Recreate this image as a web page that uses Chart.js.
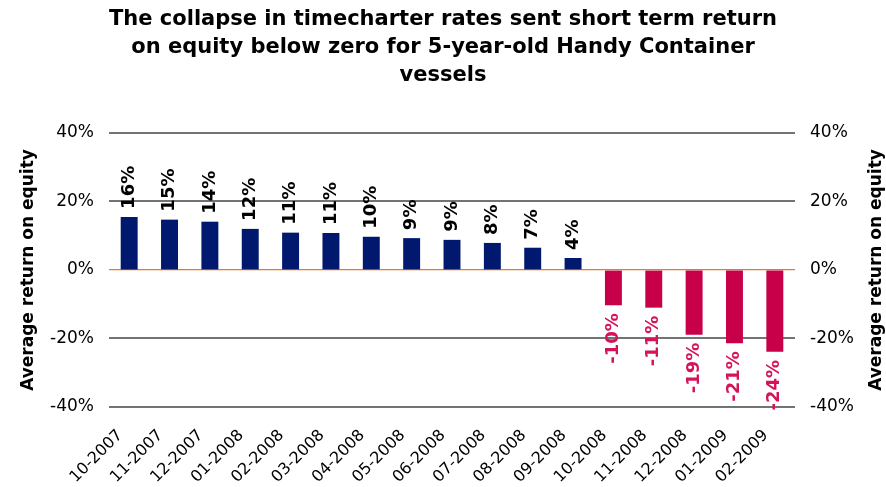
<!DOCTYPE html>
<html>
<head>
<meta charset="utf-8">
<script src="https://cdn.jsdelivr.net/npm/chart.js@4"></script>
<style>
  body { margin: 0; background: #fff; }
</style>
</head>
<body>
<canvas id="grafico" width="886" height="487"></canvas>
<script>
// Datos
var meses = ['10-2007', '11-2007', '12-2007', '01-2008', '02-2008', '03-2008', '04-2008', '05-2008',
    '06-2008', '07-2008', '08-2008', '09-2008', '10-2008', '11-2008', '12-2008', '01-2009', '02-2009'];
var valores = [15.5, 14.7, 14.1, 12.0, 10.9, 10.8, 9.7, 9.3, 8.8, 7.9, 6.5, 3.5,
    -10.3, -11.0, -18.9, -21.4, -23.9];
var titulo = ['The collapse in timecharter rates sent short term return',
    'on equity below zero for 5-year-old Handy Container', 'vessels'];
var tituloEje = 'Average return on equity';

var azul = '#00186E';
var rojo = '#C8004A';

// Plugin: etiquetas giradas en cada barra y titulos de los dos ejes
var etiquetasPlugin = {
    id: 'etiquetas',
    afterDatasetsDraw: function (chart) {
        var ctx = chart.ctx;
        var meta = chart.getDatasetMeta(0);
        ctx.save();
        ctx.font = 'bold 18px "DejaVu Sans"';
        ctx.textBaseline = 'middle';
        meta.data.forEach(function (barra, i) {
            var v = valores[i];
            var txt = Math.round(v) + '%';
            ctx.save();
            if (v >= 0) {
                ctx.translate(barra.x, barra.y - 8);
                ctx.rotate(-Math.PI / 2);
                ctx.textAlign = 'left';
                ctx.fillStyle = '#000';
            } else {
                ctx.translate(barra.x, barra.y + 8);
                ctx.rotate(-Math.PI / 2);
                ctx.textAlign = 'right';
                ctx.fillStyle = '#D4145A';
            }
            ctx.fillText(txt, 0, 0);
            ctx.restore();
        });

        // titulos de eje, los dos leidos de abajo hacia arriba
        var area = chart.chartArea;
        var yc = (area.top + area.bottom) / 2;
        ctx.font = 'bold 17px "DejaVu Sans"';
        ctx.fillStyle = '#000';
        ctx.textAlign = 'center';
        [29, 877].forEach(function (x) {
            ctx.save();
            ctx.translate(x, yc);
            ctx.rotate(-Math.PI / 2);
            ctx.fillText(tituloEje, 0, 0);
            ctx.restore();
        });
        ctx.restore();
    }
};

var fuenteTicks = { family: '"DejaVu Sans"', size: 17 };

new Chart(document.getElementById('grafico'), {
    type: 'bar',
    data: {
        labels: meses,
        datasets: [{
            label: 'Return on equity',
            data: valores,
            backgroundColor: valores.map(function (v) { return v >= 0 ? azul : rojo; }),
            barPercentage: 0.42,
            categoryPercentage: 1,
            yAxisID: 'y'
        }]
    },
    options: {
        responsive: false,
        animation: false,
        layout: { padding: 0 },
        plugins: {
            legend: { display: false },
            tooltip: { enabled: false },
            title: {
                display: true,
                text: titulo,
                color: '#000',
                font: { family: '"DejaVu Sans"', size: 21, weight: 'bold', lineHeight: 1.333 },
                padding: { top: 6, bottom: 43 }
            }
        },
        scales: {
            x: {
                grid: { display: false },
                border: { display: false },
                afterFit: function (s) { s.height = 80; },
                ticks: {
                    color: '#000',
                    font: { family: '"DejaVu Sans"', size: 16 },
                    minRotation: 45,
                    maxRotation: 45,
                    autoSkip: false,
                    padding: 11,
                    labelOffset: -9
                }
            },
            y: {
                position: 'left',
                min: -40,
                max: 40,
                border: { display: false },
                afterFit: function (s) { s.width = 109; },
                grid: {
                    color: function (c) { return c.tick.value === 0 ? '#E8782A' : '#737373'; },
                    lineWidth: function (c) { return c.tick.value === 0 ? 1.2 : 2; },
                    drawTicks: false
                },
                ticks: {
                    stepSize: 20,
                    padding: 15,
                    color: '#000',
                    font: fuenteTicks,
                    callback: function (v) { return v + '%'; }
                }
            },
            y2: {
                position: 'right',
                min: -40,
                max: 40,
                border: { display: false },
                afterFit: function (s) { s.width = 91; },
                grid: { display: false, drawTicks: false },
                ticks: {
                    stepSize: 20,
                    padding: 15,
                    color: '#000',
                    font: fuenteTicks,
                    callback: function (v) { return v + '%'; }
                }
            }
        }
    },
    plugins: [etiquetasPlugin]
});
</script>
</body>
</html>
